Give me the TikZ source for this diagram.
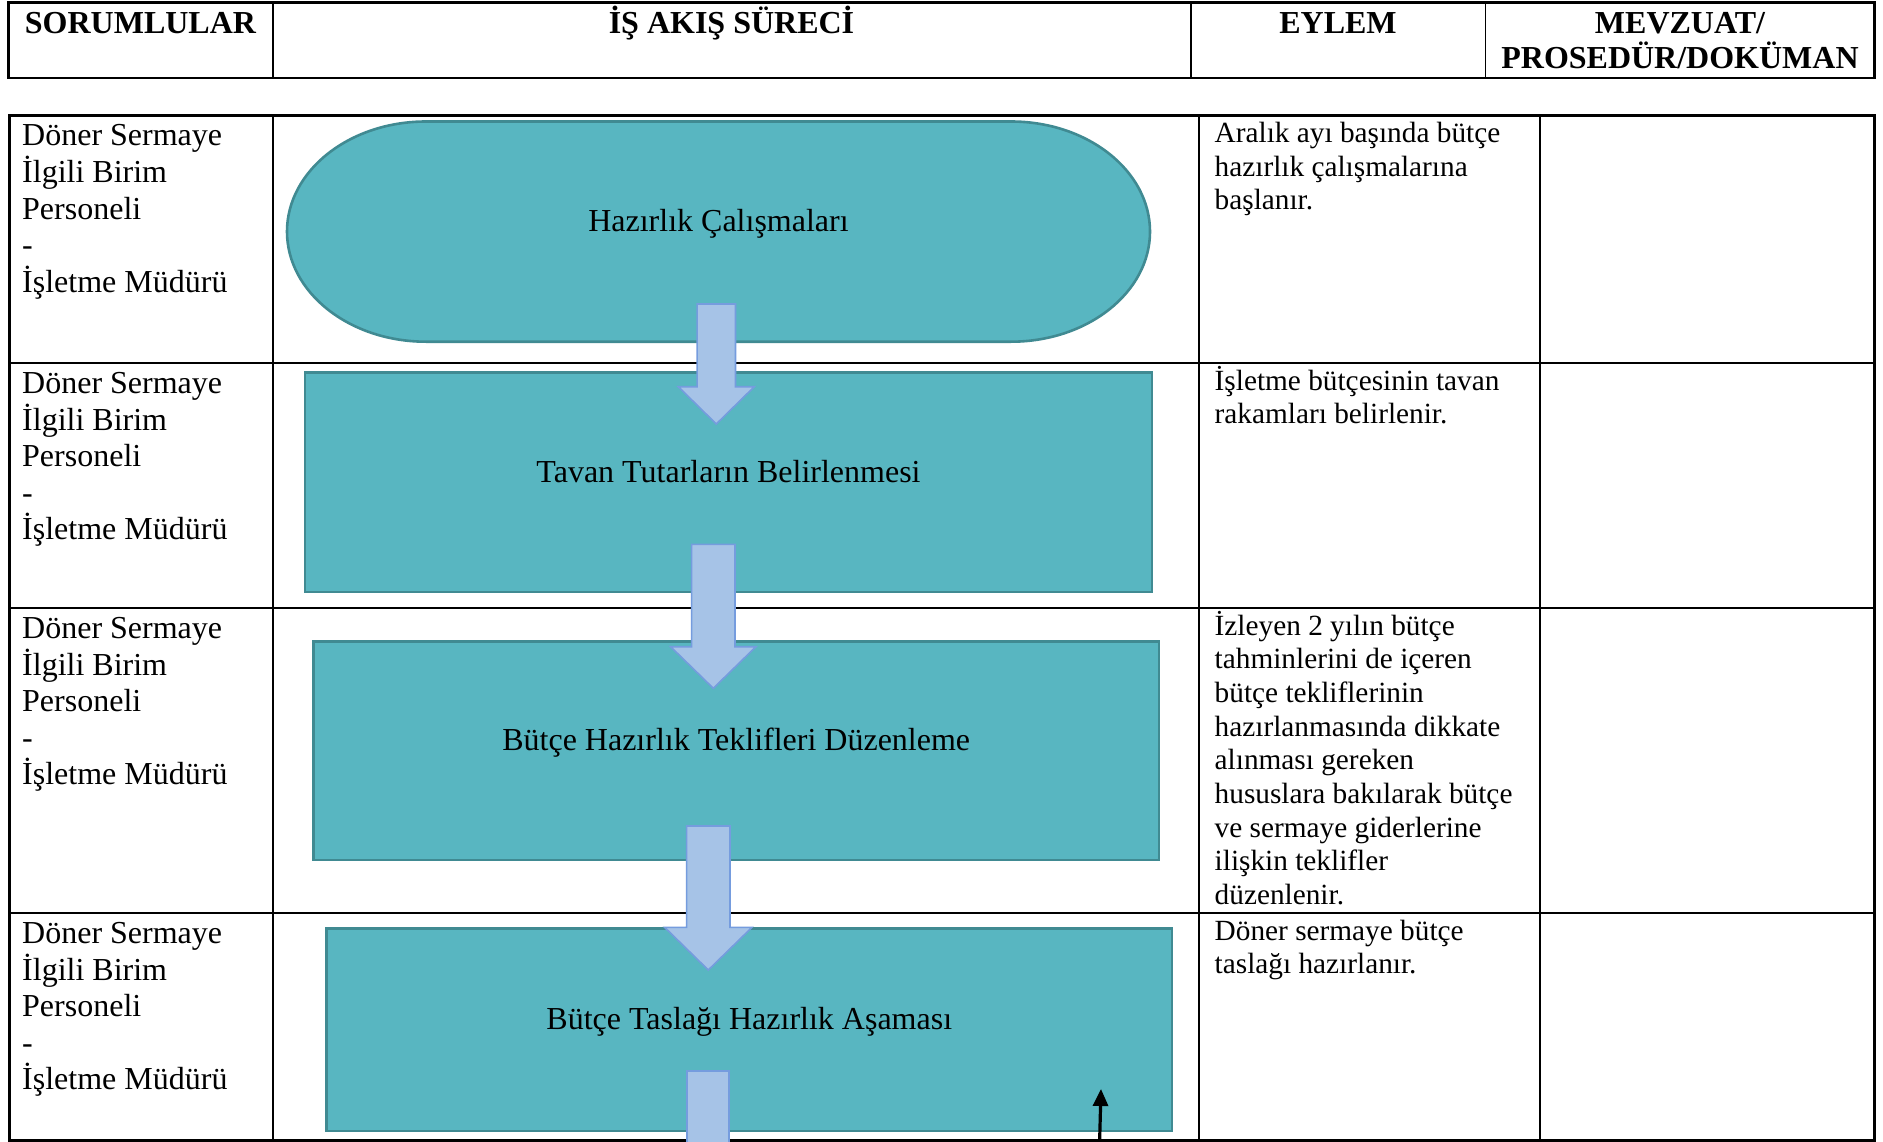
\documentclass[tikz,border=0pt]{standalone}
\usepackage{fontspec}
\setmainfont{Liberation Serif}
\usetikzlibrary{calc,arrows.meta}
\definecolor{tealfill}{RGB}{88,182,193}
\definecolor{tealdraw}{RGB}{64,138,146}
\definecolor{arrfill}{RGB}{166,195,231}
\definecolor{arrdraw}{RGB}{117,156,222}
\newcommand\bodyfont{\fontsize{32}{36.6}\selectfont}
\newcommand\eylemfont{\fontsize{29.3}{33.7}\selectfont}
\newcommand\hdrfont{\bfseries\fontsize{32}{35.5}\selectfont}
% #1 start coordinate, #2 tip coordinate, #3 head length, #4 shaft half width, #5 head half width
\newcommand\blockarr[5]{%
  \draw[barrow] ($(#1)+(-#4,0)$) -- ($(#2)+(-#4,-#3)$) -- ($(#2)+(-#5,-#3)$) -- (#2)
    -- ($(#2)+(#5,-#3)$) -- ($(#2)+(#4,-#3)$) -- ($(#1)+(#4,0)$) -- cycle;}
\begin{document}
\begin{tikzpicture}[x=1pt,y=-1pt,
  outer/.style={line width=2.8pt},
  grid/.style={line width=2pt},
  hgrid/.style={line width=1.8pt},
  procbox/.style={draw=tealdraw, fill=tealfill, line width=2.6pt, inner sep=0pt,
    text height=10pt, text depth=10pt, font=\bodyfont},
  termtext/.style={inner sep=0pt, text height=10pt, text depth=10pt, font=\bodyfont},
  termshape/.style={draw=tealdraw, fill=tealfill, line width=2.6pt},
  barrow/.style={draw=arrdraw, fill=arrfill, line width=1.6pt, line join=miter},
  hdr/.style={inner sep=0pt, anchor=base, font=\hdrfont},
  celltext/.style={inner sep=0pt, anchor=base west},
  blackarrow/.style={line width=3.2pt, -{Triangle[length=17pt,width=15pt]}},
]
\useasboundingbox (0,0) rectangle (1883,1142);
\clip (0,0) rectangle (1883,1142);
\fill[white] (0,0) rectangle (1883,1142);

% ---------- header table ----------
\draw[outer] (8.4,2.4) rectangle (1874.6,78);
\draw[hgrid] (272.6,2.4) -- (272.6,78);
\draw[hgrid] (1191.3,2.4) -- (1191.3,78);
\draw[hgrid] (1485.5,2.4) -- (1485.5,78);
\node[hdr] (h1) at (140.5,33.5) {SORUMLULAR};
\node[hdr] (h2) at (731.5,33.5) {İŞ AKIŞ SÜRECİ};
\node[hdr] (h3) at (1338,33.5) {EYLEM};
\node[inner sep=0pt, anchor=base] (h4) at (1680,33.5)
  {\parbox[t]{380pt}{\centering\hdrfont MEVZUAT/\\PROSEDÜR/DOKÜMAN}};

% ---------- main table ----------
\draw[outer] (9.6,115.3) rectangle (1874.6,1140.5);
\foreach \yy in {362.7,607.7,912.7} \draw[grid] (9.6,\yy) -- (1874.6,\yy);
\foreach \xx in {272.6,1198.5,1539.6} \draw[grid] (\xx,115.3) -- (\xx,1140.5);

% left column texts
\foreach \nm/\yy in {r1/146, r2/393.4, r3/638.4, r4/943.4}
  \node[celltext] (\nm) at (22,\yy)
    {\parbox[t]{240pt}{\raggedright\bodyfont Döner Sermaye\\İlgili Birim\\Personeli\\-\\İşletme Müdürü}};

% EYLEM column texts
\node[celltext] (e1) at (1214.5,142.5)
  {\parbox[t]{320pt}{\raggedright\eylemfont Aralık ayı başında bütçe\\hazırlık çalışmalarına\\başlanır.}};
\node[celltext] (e2) at (1214.5,390)
  {\parbox[t]{320pt}{\raggedright\eylemfont İşletme bütçesinin tavan\\rakamları belirlenir.}};
\node[celltext] (e3) at (1214.5,635)
  {\parbox[t]{320pt}{\raggedright\eylemfont İzleyen 2 yılın bütçe\\tahminlerini de içeren\\bütçe tekliflerinin\\hazırlanmasında dikkate\\alınması gereken\\hususlara bakılarak bütçe\\ve sermaye giderlerine\\ilişkin teklifler\\düzenlenir.}};
\node[celltext] (e4) at (1214.5,940)
  {\parbox[t]{320pt}{\raggedright\eylemfont Döner sermaye bütçe\\taslağı hazırlanır.}};

% ---------- flow shapes ----------
\draw[termshape] (426,121.5) .. controls (349.2,121.5) and (287,171) .. (287,231.6)
  .. controls (287,292.2) and (349.2,341.7) .. (426,341.7) -- (1011,341.7)
  .. controls (1087.8,341.7) and (1150,292.2) .. (1150,231.6)
  .. controls (1150,171) and (1087.8,121.5) .. (1011,121.5) -- cycle;
\node[termtext] (s1) at (718.5,231.6) {Hazırlık Çalışmaları};

\node[procbox, minimum width=847pt, minimum height=219.5pt] (s2) at (728.5,482.3)
  {Tavan Tutarların Belirlenmesi};
\node[procbox, minimum width=845.5pt, minimum height=218.3pt] (s3) at (736.2,750.9)
  {Bütçe Hazırlık Teklifleri Düzenleme};
\node[procbox, minimum width=845.4pt, minimum height=202.9pt] (s4) at (749.3,1029.7)
  {Bütçe Taslağı Hazırlık Aşaması};

% ---------- block arrows ----------
\coordinate (a1s) at (716.3,304);   \coordinate (a1e) at (716.3,424);
\coordinate (a2s) at (713.3,544.3); \coordinate (a2e) at (713.3,688.3);
\coordinate (a3s) at (708.3,826);   \coordinate (a3e) at (708.3,970);
\blockarr{a1s}{a1e}{37.3}{19.2}{38}
\blockarr{a2s}{a2e}{41.6}{21.65}{42.65}
\blockarr{a3s}{a3e}{42.7}{21.65}{43.7}
\coordinate (a4s) at (708,1071);
\fill[arrfill] ($(a4s)+(-21,0)$) rectangle ($(a4s)+(21,80)$);
\draw[barrow, fill=none] ($(a4s)+(-21,80)$) -- ($(a4s)+(-21,0)$) -- ($(a4s)+(21,0)$) -- ($(a4s)+(21,80)$);

% ---------- black arrow ----------
\coordinate (bs) at (1099.5,1146);
\coordinate (be) at (1101,1089);
\draw[blackarrow] (bs) -- (be);
\end{tikzpicture}
\end{document}
